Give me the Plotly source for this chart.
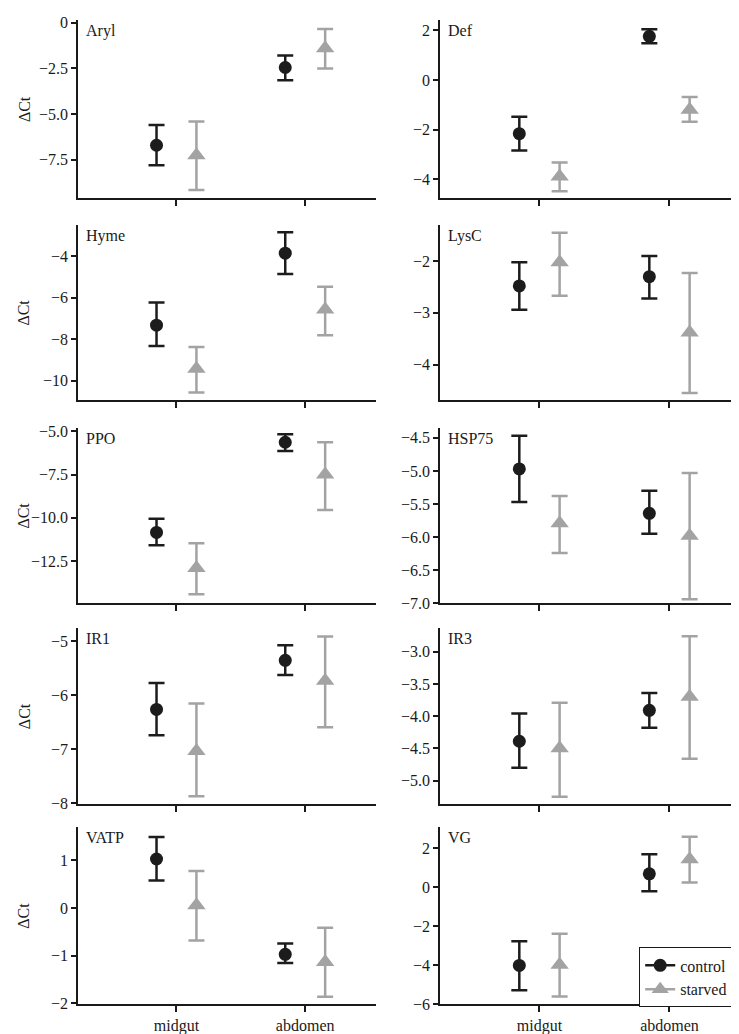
import plotly.graph_objects as go
from plotly.subplots import make_subplots

# panels in reading order (row by row, left then right)
genes = ["Aryl", "Def", "Hyme", "LysC", "PPO", "HSP75", "IR1", "IR3", "VATP", "VG"]
tissues = ["midgut", "abdomen"]

# mean dCt per tissue (midgut, abdomen)
control_mean = [[-6.7, -2.45], [-2.16, 1.76], [-7.33, -3.86], [-2.48, -2.3], [-10.85, -5.63],
                [-4.97, -5.64], [-6.26, -5.35], [-4.39, -3.91], [1.03, -0.97], [-4.0, 0.7]]
control_hi = [[-5.6, -1.8], [-1.48, 2.04], [-6.24, -2.86], [-2.02, -1.9], [-10.06, -5.17],
              [-4.47, -5.3], [-5.77, -5.07], [-3.96, -3.64], [1.49, -0.74], [-2.76, 1.7]]
control_lo = [[-7.8, -3.15], [-2.84, 1.48], [-8.33, -4.86], [-2.94, -2.72], [-11.59, -6.14],
              [-5.47, -5.95], [-6.74, -5.62], [-4.8, -4.18], [0.58, -1.15], [-5.27, -0.2]]

starved_mean = [[-7.25, -1.4], [-3.88, -1.2], [-9.43, -6.57], [-2.02, -3.38], [-12.9, -7.5],
                [-5.79, -5.98], [-7.03, -5.73], [-4.5, -3.7], [0.06, -1.13], [-3.97, 1.45]]
starved_hi = [[-5.4, -0.35], [-3.32, -0.68], [-8.38, -5.48], [-1.45, -2.23], [-11.48, -5.63],
              [-5.38, -5.03], [-6.15, -4.91], [-3.79, -2.76], [0.78, -0.41], [-2.38, 2.6]]
starved_lo = [[-9.15, -2.5], [-4.48, -1.68], [-10.57, -7.81], [-2.67, -4.55], [-14.43, -9.55],
              [-6.24, -6.94], [-7.87, -6.59], [-5.25, -4.66], [-0.68, -1.86], [-5.6, 0.25]]

# y axis ranges and tick labels per panel
y_ranges = [[-9.6, 0.15], [-4.76, 2.42], [-10.95, -2.5], [-4.69, -1.3], [-14.95, -4.8],
            [-7.0, -4.35], [-8.02, -4.75], [-5.37, -2.63], [-2.02, 1.7], [-6.0, 3.1]]
y_tickvals = [[0, -2.5, -5, -7.5], [2, 0, -2, -4], [-4, -6, -8, -10], [-2, -3, -4],
              [-5, -7.5, -10, -12.5], [-4.5, -5, -5.5, -6, -6.5, -7], [-5, -6, -7, -8],
              [-3, -3.5, -4, -4.5, -5], [1, 0, -1, -2], [2, 0, -2, -4, -6]]
y_ticktext = [["0", "−2.5", "−5.0", "−7.5"], ["2", "0", "−2", "−4"], ["−4", "−6", "−8", "−10"],
              ["−2", "−3", "−4"], ["−5.0", "−7.5", "−10.0", "−12.5"],
              ["−4.5", "−5.0", "−5.5", "−6.0", "−6.5", "−7.0"], ["−5", "−6", "−7", "−8"],
              ["−3.0", "−3.5", "−4.0", "−4.5", "−5.0"], ["1", "0", "−1", "−2"],
              ["2", "0", "−2", "−4", "−6"]]

FONT = "Liberation Serif, Times New Roman, DejaVu Serif, serif"
INK = "#1a1a1a"
BLACK = "#1c1c1c"
GREY = "#a3a3a3"
DODGE = 0.155

fig = make_subplots(rows=5, cols=2)

xdom = [[70 / 739, 368 / 739], [432 / 739, 733 / 739]]
ydom = [[1 - 187 / 1034, 1 - 6 / 1034], [1 - 392 / 1034, 1 - 214 / 1034],
        [1 - 598 / 1034, 1 - 420 / 1034], [1 - 802 / 1034, 1 - 623 / 1034],
        [1 - 1005 / 1034, 1 - 825 / 1034]]

xpos = [i + 1 for i in range(len(tissues))]

for k, g in enumerate(genes):
    r, c = k // 2 + 1, k % 2 + 1
    for mean, hi, lo, col, sym, size, dx in [
        (control_mean[k], control_hi[k], control_lo[k], BLACK, "circle", 13, -DODGE),
        (starved_mean[k], starved_hi[k], starved_lo[k], GREY, "triangle-up", 16, DODGE),
    ]:
        fig.add_trace(go.Scatter(
            x=[p + dx for p in xpos], y=mean, mode="markers",
            marker=dict(symbol=sym, size=size, color=col),
            error_y=dict(type="data", symmetric=False,
                         array=[h - m for h, m in zip(hi, mean)],
                         arrayminus=[m - l for m, l in zip(mean, lo)],
                         color=col, thickness=2.5, width=8),
            showlegend=False, hoverinfo="skip"), row=r, col=c)

    idx = "" if k == 0 else str(k + 1)
    fig.layout["xaxis" + idx].update(
        domain=xdom[c - 1], range=[0.235, 2.55], tickvals=xpos,
        ticktext=tissues if r == 5 else ["", ""],
        showline=True, linecolor=INK, linewidth=1.5, ticks="outside", ticklen=6,
        tickcolor=INK, tickwidth=1.5, showgrid=False, zeroline=False,
        tickfont=dict(family=FONT, size=16, color=INK))
    fig.layout["yaxis" + idx].update(
        domain=ydom[r - 1], range=y_ranges[k], tickvals=y_tickvals[k], ticktext=y_ticktext[k],
        showline=True, linecolor=INK, linewidth=1.5, ticks="outside", ticklen=5,
        tickcolor=INK, tickwidth=1.5, showgrid=False, zeroline=False,
        tickfont=dict(family=FONT, size=16, color=INK))
    fig.add_annotation(text=g, xref="x" + idx + " domain", yref="y" + idx + " domain",
                       x=0.02, y=1.0, xanchor="left", yanchor="top", showarrow=False,
                       font=dict(family=FONT, size=16, color=INK))
    if c == 1:
        fig.add_annotation(text="ΔCt", xref="paper", yref="y" + idx + " domain",
                           x=16 / 739, y=0.5, textangle=-90, showarrow=False,
                           xanchor="center", yanchor="middle",
                           font=dict(family=FONT, size=16, color=INK))

# legend-only entries (line through marker, as in the original key)
fig.add_trace(go.Scatter(x=[None], y=[None], mode="lines+markers", name="control",
                         marker=dict(symbol="circle", size=13, color=BLACK),
                         line=dict(color=BLACK, width=2.5)), row=5, col=2)
fig.add_trace(go.Scatter(x=[None], y=[None], mode="lines+markers", name="starved",
                         marker=dict(symbol="triangle-up", size=15, color=GREY),
                         line=dict(color=GREY, width=2.5)), row=5, col=2)

fig.update_layout(
    width=739, height=1034, margin=dict(l=0, r=0, t=0, b=0),
    plot_bgcolor="white", paper_bgcolor="white",
    font=dict(family=FONT, size=16, color=INK),
    legend=dict(x=631 / 739, y=1 - 947 / 1034, xanchor="left", yanchor="top",
                bordercolor=INK, borderwidth=1.2, bgcolor="white", itemwidth=30,
                font=dict(family=FONT, size=16), tracegroupgap=0),
)

fig.write_html("out.html")
